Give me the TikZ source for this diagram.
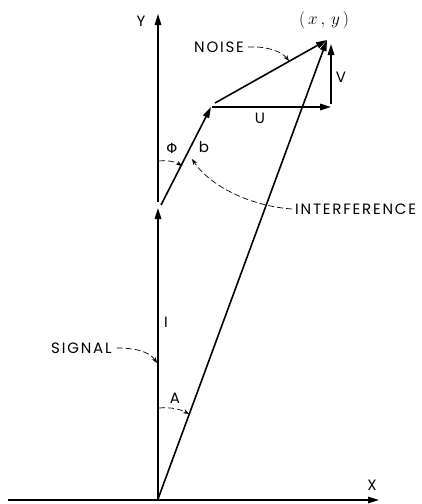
\documentclass[tikz,border=0pt]{standalone}
\usepackage{fontspec}
\setmainfont{Poppins}[LetterSpace=12]
\newfontfamily\greekfont{DejaVu Sans}
\usetikzlibrary{arrows.meta}
\tikzset{
  vec/.style={line width=1.6pt,-{Triangle[length=11pt,width=6.5pt]}},
  axisline/.style={line width=1.4pt},
  note/.style={line width=0.7pt,dash pattern=on 6pt off 3pt,-{Stealth[length=6pt,width=4.5pt]}},
  lbl/.style={font=\fontsize{15}{17}\selectfont,inner sep=0pt}
}
\begin{document}
\begin{tikzpicture}[x=1pt,y=-1pt]
\useasboundingbox (0,0) rectangle (421,504);
% key points
\coordinate (O) at (158,499);
\coordinate (S) at (158,208);
\coordinate (Bs) at (161,205);
\coordinate (B) at (211,107);
\coordinate (Us) at (212,107);
\coordinate (U) at (331,107);
\coordinate (Vs) at (331,104);
\coordinate (V) at (331,44);
\coordinate (Ns) at (215,103);
\coordinate (P) at (327,40);
\coordinate (Xs) at (8,500);
\coordinate (Xe) at (379,500);
\coordinate (Ya) at (158,202);
\coordinate (Ye) at (158,14);
% axes
\draw[axisline,-{Triangle[length=11pt,width=6.5pt]}] (Xs) -- (Xe);
\draw[axisline,-{Triangle[length=11pt,width=6.5pt]}] (Ya) -- (Ye);
% vectors
\draw[vec] (O) -- (S);
\draw[vec] (Bs) -- (B);
\draw[vec] (Us) -- (U);
\draw[vec] (Vs) -- (V);
\draw[vec] (Ns) -- (P);
\draw[vec] (O) -- (P);
% labels
\node[lbl] (ylbl) at (141,21) {Y};
\node[lbl] (xlbl) at (372,485) {X};
\node[font=\fontsize{19}{21}\selectfont,inner sep=0pt] (xy) at (324,20) {$(\,x\,,\,y\,)$};
\node[lbl,anchor=west] (noise) at (194,47) {NOISE};
\node[lbl] (vlbl) at (341,77) {V};
\node[lbl] (ulbl) at (260,118) {U};
\node[lbl] (blbl) at (204,147) {b};
\node[font=\greekfont\fontsize{14}{16}\selectfont,inner sep=0pt] (phi) at (172,148) {Φ};
\node[lbl,anchor=west] (interf) at (295,209) {INTERFERENCE};
\node[lbl,anchor=west] (signal) at (51,348) {SIGNAL};
\node[lbl] (ilbl) at (166,322) {I};
\node[lbl] (albl) at (175,398) {A};
% annotation arrows
\coordinate (n1) at (289,61);
\coordinate (s1) at (157,363);
\coordinate (a0) at (159,408);
\coordinate (a1) at (189,414);
\coordinate (p0) at (159,161);
\coordinate (p1) at (182,166);
\coordinate (i1) at (192,159);
\draw[note] (noise.east) ++(4,0) coordinate (n0) .. controls (268,46) and (282,52) .. (n1);
\draw[note] (signal.east) ++(5,0) coordinate (s0) .. controls (141,348) and (151,354) .. (s1);
\draw[note] (a0) .. controls (170,407) and (180,409) .. (a1);
\draw[note] (p0) .. controls (168,160) and (176,162) .. (p1);
\draw[note] (interf.west) ++(-3,0) coordinate (i0) .. controls (250,206) and (210,186) .. (i1);
\end{tikzpicture}
\end{document}
